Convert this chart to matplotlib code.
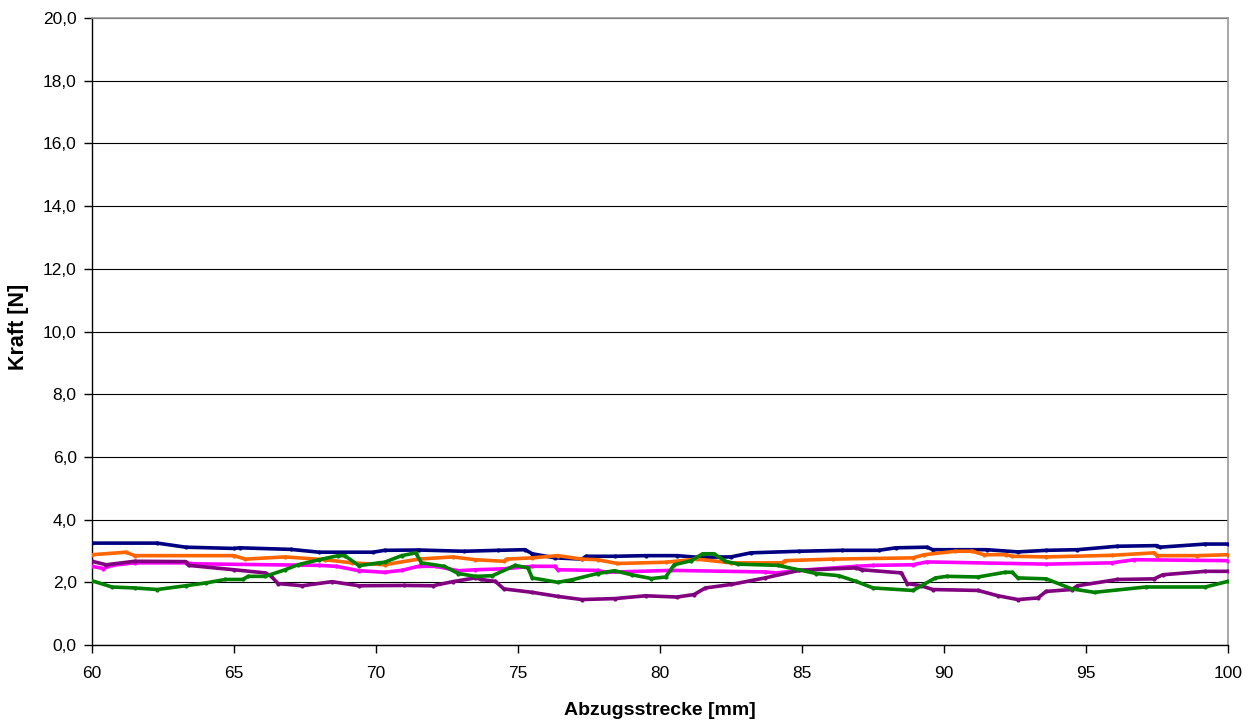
import matplotlib
matplotlib.use("Agg")
import matplotlib.pyplot as plt
from matplotlib.ticker import FuncFormatter, MultipleLocator

plt.rcParams['font.family'] = ['Liberation Sans', 'DejaVu Sans']

# Abzugskraft über Abzugsstrecke, fünf Proben
navy_x = [60.0, 62.3, 63.3, 65.0, 65.2, 67.0, 68.0, 69.9, 70.3, 71.5, 73.1, 74.3, 75.25, 75.5,
          76.3, 77.25, 77.4, 78.4, 79.5, 80.6, 81.3, 82.5, 83.2, 84.9, 86.4, 87.7, 88.3, 89.4,
          89.6, 91.5, 92.6, 93.6, 94.7, 96.1, 97.5, 97.6, 99.2, 100.0]
navy_y = [3.25, 3.25, 3.12, 3.08, 3.10, 3.05, 2.96, 2.96, 3.02, 3.03, 2.99, 3.02, 3.04, 2.91,
          2.78, 2.74, 2.83, 2.83, 2.85, 2.85, 2.80, 2.81, 2.94, 2.99, 3.02, 3.02, 3.10, 3.12,
          3.04, 3.04, 2.97, 3.02, 3.04, 3.15, 3.17, 3.12, 3.22, 3.22]

orange_x = [60.0, 61.2, 61.5, 65.0, 65.4, 66.8, 68.2, 69.15, 70.3, 71.5, 72.7, 73.5, 74.5, 74.6,
            75.5, 76.4, 77.25, 77.8, 78.5, 80.2, 81.3, 82.5, 84.3, 84.4, 86.1, 88.9, 89.3, 90.4,
            91.0, 91.4, 92.2, 92.4, 93.6, 95.9, 97.4, 97.5, 98.9, 100.0]
orange_y = [2.88, 2.96, 2.85, 2.85, 2.74, 2.81, 2.72, 2.62, 2.56, 2.74, 2.81, 2.72, 2.67, 2.74,
            2.78, 2.85, 2.74, 2.72, 2.60, 2.64, 2.74, 2.62, 2.62, 2.69, 2.74, 2.78, 2.88, 2.99,
            2.99, 2.88, 2.88, 2.83, 2.81, 2.86, 2.94, 2.85, 2.85, 2.88]

magenta_x = [60.0, 60.4, 60.7, 61.5, 63.3, 63.6, 68.0, 68.6, 69.4, 70.3, 70.9, 71.5, 72.1, 72.9,
             73.5, 74.5, 75.5, 76.3, 76.4, 77.8, 78.1, 80.4, 83.7, 84.1, 84.9, 86.9, 87.5, 88.9,
             89.4, 93.6, 95.9, 96.7, 100.0]
magenta_y = [2.51, 2.44, 2.54, 2.62, 2.62, 2.59, 2.54, 2.51, 2.37, 2.32, 2.38, 2.51, 2.51, 2.37,
             2.40, 2.43, 2.51, 2.51, 2.40, 2.38, 2.32, 2.38, 2.33, 2.30, 2.38, 2.51, 2.54, 2.56,
             2.65, 2.58, 2.62, 2.72, 2.69]

purple_x = [60.0, 60.5, 61.5, 63.3, 63.4, 65.0, 66.1, 66.3, 66.55, 67.4, 68.45, 69.4, 71.0, 72.0,
            72.7, 73.5, 73.7, 74.2, 74.5, 75.5, 76.4, 77.25, 78.4, 79.5, 80.6, 81.2, 81.6, 82.5,
            83.7, 84.9, 86.9, 87.1, 88.5, 88.7, 89.2, 89.6, 91.2, 91.9, 92.6, 93.3, 93.6, 94.5,
            94.7, 96.1, 97.4, 97.7, 99.2, 100.0]
purple_y = [2.67, 2.56, 2.67, 2.66, 2.54, 2.40, 2.30, 2.20, 1.96, 1.89, 2.02, 1.89, 1.90, 1.89,
            2.02, 2.14, 2.09, 2.03, 1.79, 1.68, 1.55, 1.45, 1.48, 1.57, 1.53, 1.61, 1.82, 1.93,
            2.14, 2.38, 2.46, 2.40, 2.30, 1.96, 1.89, 1.77, 1.74, 1.57, 1.45, 1.50, 1.71, 1.77,
            1.89, 2.09, 2.11, 2.24, 2.35, 2.35]

green_x = [60.0, 60.7, 61.5, 62.3, 63.3, 64.0, 64.7, 65.3, 65.5, 66.1, 66.8, 67.25, 68.0, 68.66,
           68.9, 69.4, 70.1, 70.3, 70.9, 71.4, 71.6, 72.4, 72.9, 73.5, 74.1, 74.9, 75.35, 75.5,
           76.4, 76.9, 77.8, 78.4, 79.0, 79.7, 80.2, 80.5, 81.1, 81.5, 81.9, 82.3, 82.75, 84.15,
           85.5, 86.3, 86.9, 87.5, 88.9, 89.7, 90.1, 91.2, 92.15, 92.4, 92.6, 93.6, 94.5, 95.3,
           97.1, 99.2, 100.0]
green_y = [2.05, 1.85, 1.82, 1.77, 1.89, 1.98, 2.09, 2.09, 2.19, 2.19, 2.40, 2.56, 2.72, 2.85,
           2.85, 2.53, 2.62, 2.64, 2.85, 2.94, 2.62, 2.51, 2.28, 2.19, 2.21, 2.54, 2.46, 2.14,
           2.00, 2.08, 2.28, 2.37, 2.24, 2.12, 2.17, 2.56, 2.69, 2.91, 2.91, 2.67, 2.58, 2.54,
           2.28, 2.21, 2.03, 1.82, 1.74, 2.14, 2.19, 2.17, 2.32, 2.32, 2.14, 2.11, 1.79, 1.68,
           1.85, 1.85, 2.03]

series = [
    (navy_x, navy_y, '#000080'),
    (orange_x, orange_y, '#FF6600'),
    (magenta_x, magenta_y, '#FF00FF'),
    (purple_x, purple_y, '#800080'),
    (green_x, green_y, '#008000'),
]

x_ticks = [60, 65, 70, 75, 80, 85, 90, 95, 100]

fig = plt.figure(figsize=(12.48, 7.2), dpi=100)
ax = fig.add_axes([92 / 1248, 1 - 645 / 720, (1228 - 92) / 1248, (645 - 18) / 720])

for xs, ys, col in series:
    ax.plot(xs, ys, color=col, lw=2.6, marker='.', ms=4, solid_joinstyle='round', zorder=3)

ax.set_xlim(60, 100)
ax.set_ylim(0, 20)
ax.set_xticks(x_ticks)
ax.yaxis.set_major_locator(MultipleLocator(2))
ax.yaxis.set_major_formatter(FuncFormatter(lambda v, p: f"{v:.1f}".replace('.', ',')))
ax.grid(axis='y', color='#000000', lw=0.8, zorder=1)
ax.set_axisbelow(True)

for s in ('top', 'right'):
    ax.spines[s].set_color('#999999')
    ax.spines[s].set_linewidth(1.2)
for s in ('left', 'bottom'):
    ax.spines[s].set_color('#000000')
    ax.spines[s].set_linewidth(1.0)

ax.tick_params(axis='both', direction='out', length=6, width=1, labelsize=12.5, colors='#000000')
ax.tick_params(axis='y', pad=5)
ax.tick_params(axis='x', pad=9)

ax.set_xlabel('Abzugsstrecke [mm]', fontsize=14, fontweight='bold', labelpad=15)
ax.set_ylabel('Kraft [N]', fontsize=15.5, fontweight='bold')
ax.yaxis.set_label_coords(-0.0555, 0.508)

fig.savefig('out.png', dpi=100, facecolor='white')
